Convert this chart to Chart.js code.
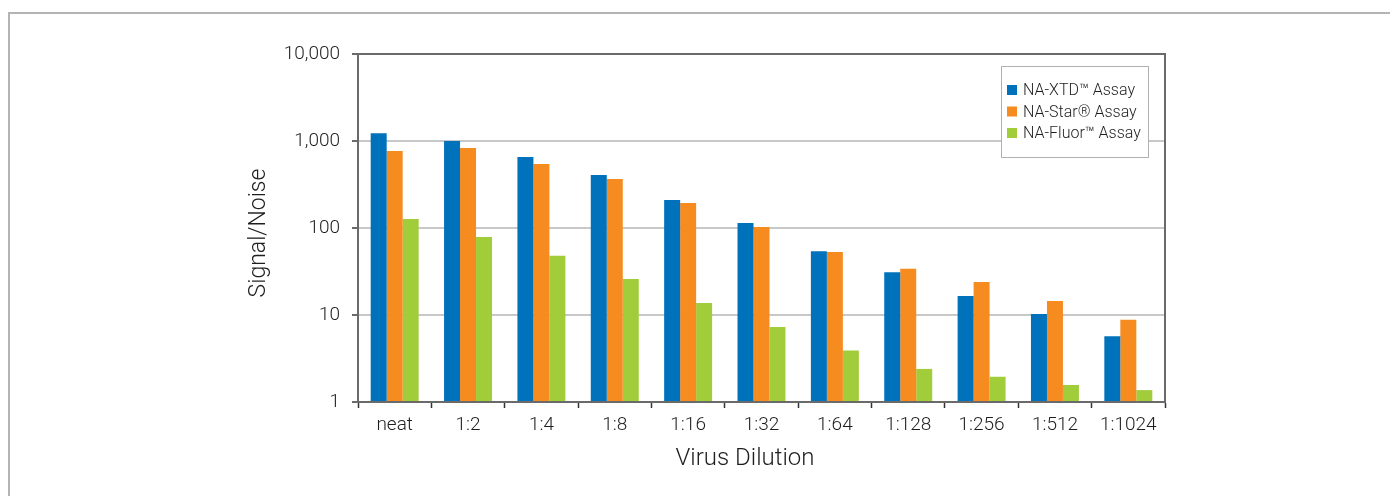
<!DOCTYPE html>
<html>
<head>
<meta charset="utf-8">
<script src="https://cdn.jsdelivr.net/npm/chart.js@4"></script>
<style>
  html, body { margin: 0; padding: 0; background: #fff; overflow: hidden; }
  #frame { position: absolute; left: 8px; top: 12px; width: 1500px; height: 600px;
           border: 2px solid #b4b4b4; box-sizing: border-box; }
  #wrap { position: absolute; left: 0; top: 0; width: 1390px; height: 496px; }
</style>
</head>
<body>
<div id="frame"></div>
<div id="wrap"><canvas id="chart" width="1390" height="496"></canvas></div>
<script>
const dilutions = ['neat', '1:2', '1:4', '1:8', '1:16', '1:32', '1:64', '1:128', '1:256', '1:512', '1:1024'];
const xtdValues = [1230, 1000, 655, 406, 210, 114, 54, 31, 16.5, 10.3, 5.7];
const starValues = [767, 831, 544, 366, 194, 103, 53, 34, 24, 14.5, 8.8];
const fluorValues = [127, 79, 48, 26, 13.7, 7.3, 3.9, 2.4, 1.95, 1.57, 1.37];
const yTicks = [1, 10, 100, 1000, 10000];

const FONT = "'Roboto', 'Liberation Sans', sans-serif";
const TEXT = '#1e1e1e';
const AXIS = '#6a6a6a';

// bordure de la zone de tracé, titres des axes et légende encadrée
const framePlugin = {
    id: 'framePlugin',
    afterDraw(chart) {
        const { ctx, chartArea: a } = chart;
        ctx.save();
        ctx.strokeStyle = AXIS;
        ctx.lineWidth = 2;
        ctx.strokeRect(a.left, a.top, a.right - a.left, a.bottom - a.top);

        // titres
        ctx.fillStyle = TEXT;
        ctx.textAlign = 'center';
        ctx.textBaseline = 'middle';
        ctx.font = '300 24px ' + FONT;
        ctx.fillText('Virus Dilution', 745, 459);
        ctx.save();
        ctx.translate(259, 233);
        ctx.rotate(-Math.PI / 2);
        ctx.font = '300 23px ' + FONT;
        ctx.fillText('Signal/Noise', 0, 0);
        ctx.restore();

        // légende
        const bx = 1001.5, by = 66.5, bw = 147, bh = 91;
        ctx.fillStyle = '#fff';
        ctx.fillRect(bx, by, bw, bh);
        ctx.strokeStyle = '#b0b0b0';
        ctx.lineWidth = 1;
        ctx.strokeRect(bx, by, bw, bh);
        ctx.font = '300 16px ' + FONT;
        ctx.textAlign = 'left';
        chart.data.datasets.forEach((ds, i) => {
            const y = 90 + i * 21.5;
            ctx.fillStyle = ds.backgroundColor;
            ctx.fillRect(1007, y - 5, 10, 10);
            ctx.fillStyle = TEXT;
            ctx.fillText(ds.label, 1023, y + 1);
        });
        ctx.restore();
    }
};

new Chart(document.getElementById('chart'), {
    type: 'bar',
    data: {
        labels: dilutions,
        datasets: [
            { label: 'NA-XTD™ Assay', data: xtdValues, backgroundColor: '#0072bc' },
            { label: 'NA-Star® Assay', data: starValues, backgroundColor: '#f68b1f' },
            { label: 'NA-Fluor™ Assay', data: fluorValues, backgroundColor: '#a2cd3a' }
        ]
    },
    options: {
        responsive: false,
        animation: false,
        layout: { padding: { left: 240, top: 54, right: 225, bottom: 22 } },
        datasets: { bar: { categoryPercentage: 0.654, barPercentage: 1.0 } },
        plugins: { legend: { display: false }, tooltip: { enabled: false } },
        scales: {
            x: {
                grid: { offset: true, drawOnChartArea: false, drawTicks: true, tickLength: 6,
                        tickColor: '#333', tickWidth: 1.5 },
                border: { color: AXIS, width: 2 },
                ticks: { color: TEXT, font: { family: FONT, size: 19, weight: '300' }, padding: 6 },
                afterFit(scale) { scale.height = 72; }
            },
            y: {
                type: 'logarithmic',
                min: 1, max: 10000,
                afterBuildTicks(scale) { scale.ticks = yTicks.map(v => ({ value: v })); },
                grid: { color: '#c8c8c8', lineWidth: 2, tickLength: 6, tickColor: AXIS, tickWidth: 2 },
                border: { color: AXIS, width: 2 },
                ticks: {
                    color: TEXT, padding: 12,
                    font: { family: FONT, size: 19, weight: '300' },
                    callback: v => Number(v).toLocaleString('en-US')
                },
                afterFit(scale) { scale.width = 118; }
            }
        }
    },
    plugins: [framePlugin]
});
</script>
</body>
</html>
